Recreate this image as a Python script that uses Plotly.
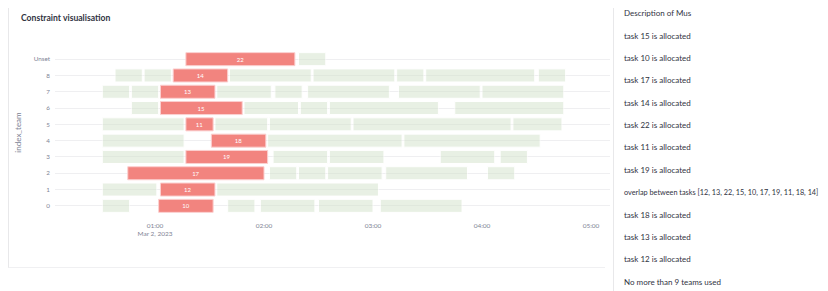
import plotly.graph_objects as go
import pandas as pd

DAY = "2023-03-02 "

team_order = ["0", "1", "2", "3", "4", "5", "6", "7", "8", "Unset"]

red_task = ["22", "14", "13", "15", "11", "18", "19", "17", "12", "10"]
red_team = ["Unset", "8", "7", "6", "5", "4", "3", "2", "1", "0"]
red_start = ["01:17", "01:10", "01:03", "01:03", "01:17", "01:31", "01:17", "00:45", "01:03", "01:02"]
red_end = ["02:17", "01:40", "01:33", "01:48", "01:32", "02:01", "02:02", "02:00", "01:33", "01:32"]

green_team = (["Unset"]
              + ["8"] * 7
              + ["7"] * 7
              + ["6"] * 5
              + ["5"] * 5
              + ["4"] * 3
              + ["3"] * 5
              + ["2"] * 5
              + ["1"] * 2
              + ["0"] * 5)
green_start = ["02:19",
               "00:38", "00:54", "01:41", "02:27", "03:13", "03:29", "04:31",
               "00:31", "00:47", "01:34", "02:06", "02:24", "03:14", "04:00",
               "00:47", "01:49", "02:20", "02:36", "03:45",
               "00:31", "01:33", "02:03", "02:49", "04:17",
               "00:31", "02:02", "03:17",
               "00:31", "02:05", "02:36", "03:37", "04:10",
               "02:03", "02:19", "02:35", "03:07", "04:03",
               "00:31", "01:34",
               "00:31", "01:40", "01:58", "02:30", "03:04"]
green_end = ["02:34",
             "00:53", "01:09", "02:26", "03:12", "03:28", "04:29", "04:46",
             "00:46", "01:02", "02:04", "02:21", "03:09", "03:59", "04:45",
             "01:02", "02:19", "02:35", "03:36", "04:45",
             "01:16", "02:02", "02:48", "04:16", "04:44",
             "01:16", "03:16", "04:32",
             "01:16", "02:35", "03:06", "04:07", "04:25",
             "02:18", "02:34", "03:05", "03:52", "04:18",
             "01:01", "03:03",
             "00:46", "01:55", "02:28", "03:00", "03:49"]

messages = ["Description of Mus",
            "task 15 is allocated",
            "task 10 is allocated",
            "task 17 is allocated",
            "task 14 is allocated",
            "task 22 is allocated",
            "task 11 is allocated",
            "task 19 is allocated",
            "overlap between tasks [12, 13, 22, 15, 10, 17, 19, 11, 18, 14]",
            "task 18 is allocated",
            "task 13 is allocated",
            "task 12 is allocated",
            "No more than 9 teams used"]

# the page body has an 8px margin: the figure starts at page pixel (8, 8)
OFF = 8
W, H = 828 - OFF, 291 - OFF
ML, MR, MT, MB = 55 - OFF, 218, 51 - OFF, 77
FONT = "Lato"


def ts(hm):
    return pd.Timestamp(DAY + hm)


def dur_ms(a, b):
    return (ts(b) - ts(a)).total_seconds() * 1000


def px2paper(x, y):
    # page pixel -> paper coordinates
    x -= OFF
    y -= OFF
    return (x - ML) / (W - ML - MR), (H - MB - y) / (H - MT - MB)


fig = go.Figure()

fig.add_trace(go.Bar(
    orientation="h",
    y=green_team,
    base=[ts(s) for s in green_start],
    x=[dur_ms(s, e) for s, e in zip(green_start, green_end)],
    marker=dict(color="#d3e3ca", line=dict(color="white", width=1)),
    opacity=0.5,
    hoverinfo="skip",
    showlegend=False,
))

fig.add_trace(go.Bar(
    orientation="h",
    y=red_team,
    base=[ts(s) for s in red_start],
    x=[dur_ms(s, e) for s, e in zip(red_start, red_end)],
    text=red_task,
    textposition="inside",
    insidetextanchor="middle",
    textfont=dict(color="white", size=6, family=FONT),
    marker=dict(color="#F2847F", line=dict(color="#fbd0d0", width=1)),
    showlegend=False,
))

annotations = []
tx, ty = px2paper(19, 18)
annotations.append(dict(text="<b>Constraint visualisation</b>", x=tx, y=ty,
                        xref="paper", yref="paper", xanchor="left", yanchor="middle",
                        showarrow=False, font=dict(size=8.6, color="#31333F", family=FONT)))
for i, m in enumerate(messages):
    mx, my = px2paper(622, 13.3 + 22.36 * i)
    size = 7.3 if m.startswith("overlap") else 8
    annotations.append(dict(text=m, x=mx, y=my, xref="paper", yref="paper",
                            xanchor="left", yanchor="middle", showarrow=False,
                            font=dict(size=size, color="#31333F", family=FONT)))

shapes = []


def line(x0, y0, x1, y1, color="#e8e8ea"):
    a = px2paper(x0, y0)
    b = px2paper(x1, y1)
    shapes.append(dict(type="line", xref="paper", yref="paper",
                       x0=a[0], y0=a[1], x1=b[0], y1=b[1],
                       line=dict(color=color, width=1)))


line(8.5, 8, 8.5, 268)
line(8.5, 267.5, 605, 267.5, "#f0f0f2")
line(613.5, 8, 613.5, 291)

fig.update_layout(
    width=W, height=H,
    margin=dict(l=ML, r=MR, t=MT, b=MB, autoexpand=False),
    paper_bgcolor="white", plot_bgcolor="white",
    barmode="overlay",
    bargap=0.2,
    font=dict(family=FONT, color="#808495"),
    annotations=annotations,
    shapes=shapes,
    xaxis=dict(type="date",
               range=[DAY + "00:04:57", DAY + "05:10:27"],
               dtick=3600000,
               automargin=False,
               showgrid=False, zeroline=False, showline=False,
               tickfont=dict(size=6.5, color="#808495"),
               ticklabelstandoff=6),
    yaxis=dict(type="category",
               categoryorder="array", categoryarray=team_order,
               range=[-0.5, 9.5],
               automargin=False,
               showgrid=True, gridcolor="#efeff1", gridwidth=1,
               zeroline=False, showline=False,
               tickfont=dict(size=6.3, color="#808495"),
               ticklabelstandoff=4,
               title=dict(text="index_team", font=dict(size=8, color="#808495"), standoff=10)),
)

fig.write_html("out.html")
